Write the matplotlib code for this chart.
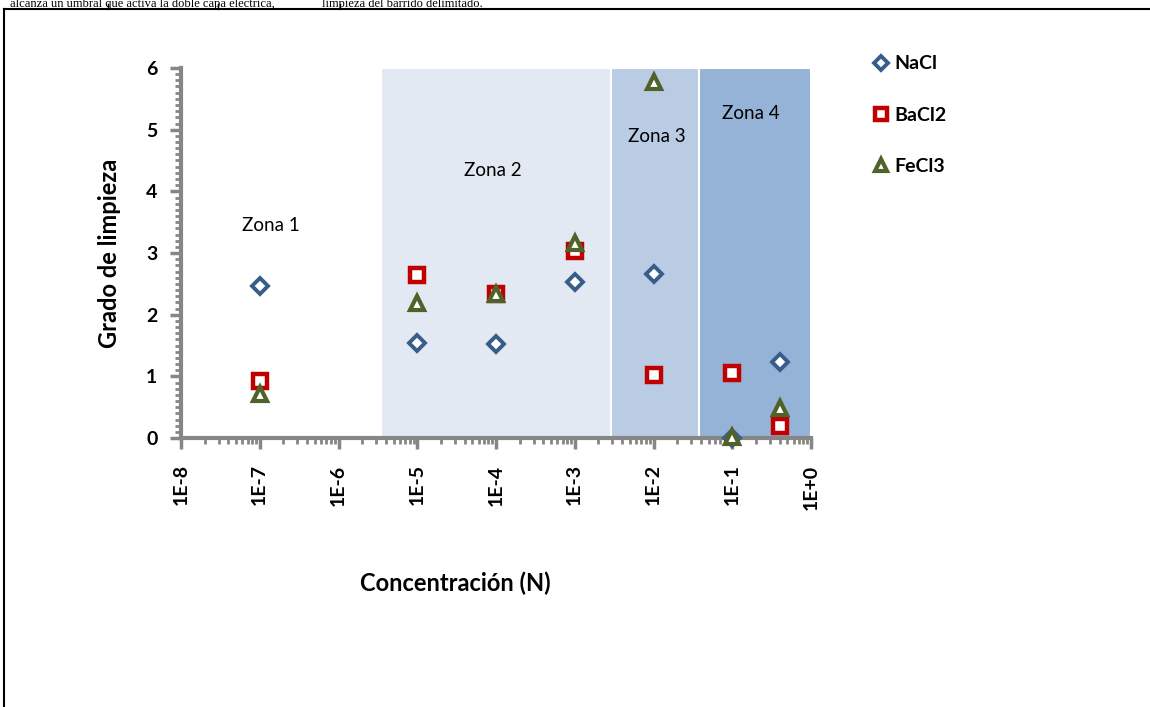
# Imports
import matplotlib
matplotlib.use('Agg')
import matplotlib.pyplot as plt
from matplotlib.lines import Line2D
from matplotlib.ticker import FixedLocator, MultipleLocator, NullFormatter

plt.rcParams['font.family'] = ['Lato', 'DejaVu Sans']

# Data
concentration = [1e-7, 1e-5, 1e-4, 1e-3, 1e-2, 1e-1, 0.4]
nacl = [2.47, 1.54, 1.52, 2.53, 2.66, 0.0, 1.23]
bacl2 = [0.93, 2.64, 2.33, 3.03, 1.02, 1.05, 0.19]
fecl3 = [0.72, 2.19, 2.33, 3.16, 5.77, 0.02, 0.49]

series_names = ['NaCl', 'BaCl2', 'FeCl3']

# Shaded zones (zone 1 is left unshaded)
zone_edges = [3.5e-6, 2.9e-3, 0.0375, 1.0]
zone_colors = ['#E2E9F3', '#B9CCE4', '#95B3D7']
zone_labels = ['Zona 1', 'Zona 2', 'Zona 3', 'Zona 4']
zone_label_x = [1.4e-7, 9e-5, 1.1e-2, 0.17]
zone_label_y = [3.45, 4.34, 4.89, 5.27]

xtick_values = [1e-8, 1e-7, 1e-6, 1e-5, 1e-4, 1e-3, 1e-2, 1e-1, 1e0]
xtick_labels = ['1E-8', '1E-7', '1E-6', '1E-5', '1E-4', '1E-3', '1E-2', '1E-1', '1E+0']

axis_gray = '#868686'

fig = plt.figure(figsize=(11.5, 7.07), dpi=100)

# Text of the page above and the table cell border
fig.text(10 / 1150, 1 - 7.5 / 707, 'alcanza un umbral que activa la doble capa eléctrica,',
         family='Liberation Serif', fontsize=9, va='baseline')
fig.text(322 / 1150, 1 - 7.5 / 707, 'limpieza del barrido delimitado.',
         family='Liberation Serif', fontsize=9, va='baseline')
fig.add_artist(Line2D([4 / 1150, 1], [1 - 9 / 707, 1 - 9 / 707], color='black', lw=1.5))
fig.add_artist(Line2D([4 / 1150, 4 / 1150], [0, 1 - 9 / 707], color='black', lw=1.5))
for bx in [108, 218, 340]:
    fig.add_artist(Line2D([bx / 1150, bx / 1150], [1 - 9 / 707, 1 - 4 / 707],
                          color='black', lw=1))

ax = fig.add_axes([181 / 1150, 1 - 438 / 707, 630 / 1150, 370 / 707])
ax.set_xscale('log')
ax.set_xlim(1e-8, 1)
ax.set_ylim(0, 6)

# Zones
for i in range(len(zone_colors)):
    ax.axvspan(zone_edges[i], zone_edges[i + 1], facecolor=zone_colors[i],
               edgecolor='white', lw=1.5, zorder=0)
for i in range(len(zone_labels)):
    ax.text(zone_label_x[i], zone_label_y[i], zone_labels[i], fontsize=13.5,
            ha='center', va='center')

# Series
ax.plot(concentration, nacl, ls='none', marker='D', ms=8, mew=2.8,
        mfc='white', mec='#385D8A', label=series_names[0], clip_on=False, zorder=3)
ax.plot(concentration, bacl2, ls='none', marker='s', ms=10, mew=3.2,
        mfc='white', mec='#C00000', label=series_names[1], clip_on=False, zorder=3)
ax.plot(concentration, fecl3, ls='none', marker='^', ms=10, mew=3,
        mfc='white', mec='#4F6228', label=series_names[2], clip_on=False, zorder=4)

# Axes styling
for side in ['top', 'right']:
    ax.spines[side].set_visible(False)
for side in ['left', 'bottom']:
    ax.spines[side].set_color(axis_gray)
    ax.spines[side].set_linewidth(3)
ax.xaxis.set_major_locator(FixedLocator(xtick_values))
ax.set_xticklabels(xtick_labels, rotation=90, fontsize=14, fontweight='bold')
ax.xaxis.set_minor_formatter(NullFormatter())
ax.yaxis.set_major_locator(MultipleLocator(1))
ax.yaxis.set_minor_locator(MultipleLocator(0.1))
ax.tick_params(axis='both', which='major', direction='out', length=8, width=2.5,
               color=axis_gray, labelsize=14)
ax.tick_params(axis='both', which='minor', direction='out', length=4, width=2,
               color=axis_gray)
ax.tick_params(axis='x', which='major', pad=11)
ax.tick_params(axis='y', which='major', pad=9)
for lab in ax.get_yticklabels():
    lab.set_fontweight('bold')

ax.set_ylabel('Grado de limpieza', fontsize=17, fontweight='bold', labelpad=18)
fig.text(455 / 1150, 1 - 583 / 707, 'Concentración (N)', fontsize=17,
         fontweight='bold', ha='center', va='center')

fig.legend(loc='upper left', bbox_to_anchor=(856 / 1150, 1 - 38 / 707),
           frameon=False, handlelength=0.8, handletextpad=0.25,
           labelspacing=1.75, markerscale=0.85, prop={'weight': 'bold', 'size': 14})

fig.savefig('out.png', dpi=100)
